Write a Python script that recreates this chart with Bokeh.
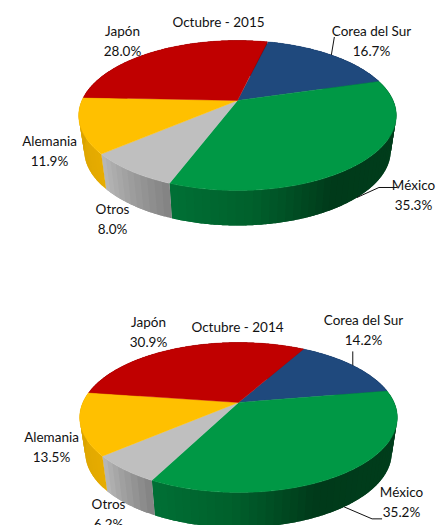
import math
from bokeh.embed import file_html
from bokeh.models import Range1d
from bokeh.plotting import figure
from bokeh.resources import INLINE
from bokeh.core.properties import value

# ---- data ----
categories = ["Corea del Sur", "México", "Otros", "Alemania", "Japón"]
values_2015 = [16.7, 35.3, 8.0, 11.9, 28.0]
values_2014 = [14.2, 35.2, 6.2, 13.5, 30.9]
title_2015 = "Octubre - 2015"
title_2014 = "Octubre - 2014"

# ---- style ----
top_colors = ["#1F497D", "#009845", "#BFBFBF", "#FFC000", "#C00000"]
# wall colours run clockwise: from the right-hand end of a slice to its left-hand end
wall_stops = [
    ["#14315A", "#102848"],
    ["#00401E", "#003E1C", "#003C1B", "#003A1A", "#00602C", "#007035"],
    ["#828282", "#B8B8B8"],
    ["#E6AC00", "#D6A000"],
    ["#800000", "#700000"],
]
FONT = "Lato"
FONT_SIZE = "13.5px"
TEXT_COLOR = "#111111"
K, A, B = 0.2, 72.0, 155.6      # perspective of the pie disc
DEPTH, BOTTOM_SCALE = 35.0, 0.965

layout_2015 = dict(
    apex=(237, 100), start=13.6, title=(218, 21),
    labels=[(371, 30), (413, 184), (112, 208), (49, 140), (122, 30)],
    leaders={0: [(3, -18)], 1: [(22, -10), (40, -10)]},
)
layout_2014 = dict(
    apex=(238, 402), start=29.4, title=(237, 326),
    labels=[(363, 319), (401, 491), (108, 503), (51, 436), (148, 321)],
    leaders={0: [(0, -14)], 1: [(28, 12), (38, 12)]},
)


def project(deg, apex, bottom=False):
    t = math.radians(deg)
    X, Y = math.sin(t), math.cos(t)
    d = 1 + K * Y
    dx, dy = B * X / d, -A * Y / d
    if bottom:
        return apex[0] + BOTTOM_SCALE * dx, apex[1] + dy + DEPTH
    return apex[0] + dx, apex[1] + dy


def mix(stops, f):
    n = len(stops) - 1
    i = min(int(f * n), n - 1)
    u = f * n - i
    a, b = stops[i], stops[i + 1]
    ch = [round(int(a[j:j + 2], 16) * (1 - u) + int(b[j:j + 2], 16) * u) for j in (1, 3, 5)]
    return "#%02x%02x%02x" % tuple(ch)


p = figure(width=445, height=525, output_backend="svg", toolbar_location=None,
           x_range=Range1d(0, 445), y_range=Range1d(525, 0), min_border=0,
           outline_line_color=None)
p.axis.visible = False
p.grid.visible = False


def draw_pie(vals, title, lay):
    apex = lay["apex"]
    angle = lay["start"]
    spans = []
    for v in vals:
        sweep = v * 3.6
        spans.append((angle, angle + sweep))
        angle += sweep
    # side walls: narrow bands, each overlapping the next so no seam shows
    for (a0, a1), stops in zip(spans, wall_stops):
        n = max(2, int((a1 - a0) / 2.5))
        step = (a1 - a0) / n
        for i in range(n):
            s0 = a0 + step * i
            s1 = min(a1, s0 + step * 2)
            m = max(4, int((s1 - s0) / 0.5))
            arc = [s0 + (s1 - s0) * j / m for j in range(m + 1)]
            q = [project(s, apex) for s in arc] + [project(s, apex, True) for s in reversed(arc)]
            p.patch([u[0] for u in q], [u[1] for u in q], fill_color=mix(stops, (i + 0.5) / n), line_color=None)
    # top faces
    for (a0, a1), c in zip(spans, top_colors):
        n = max(4, int(a1 - a0))
        rim = [project(a0 + (a1 - a0) * i / n, apex) for i in range(n + 1)]
        xs = [apex[0]] + [u[0] for u in rim]
        ys = [apex[1]] + [u[1] for u in rim]
        p.patch(xs, ys, fill_color=c, line_color=c, line_width=0.4)
    # leader lines, from the middle of the slice
    for idx, offs in lay["leaders"].items():
        mid = sum(spans[idx]) / 2
        ax, ay = project(mid, apex, bottom=idx == 1)
        p.line([ax] + [ax + o[0] for o in offs], [ay] + [ay + o[1] for o in offs],
               line_color="#111111", line_width=1)
    # texts
    tx = [lay["title"][0]]
    ty = [lay["title"][1]]
    tt = [title]
    for (x, y), name, v in zip(lay["labels"], categories, vals):
        tx += [x, x]
        ty += [y, y + 20]
        tt += [name, f"{v:.1f}%"]
    p.text(tx, ty, text=tt, text_font=value(FONT), text_font_size=FONT_SIZE,
           text_align="center", text_baseline="middle", text_color=TEXT_COLOR)


draw_pie(values_2015, title_2015, layout_2015)
draw_pie(values_2014, title_2014, layout_2014)

open("out.html", "w").write(file_html(p, INLINE))
